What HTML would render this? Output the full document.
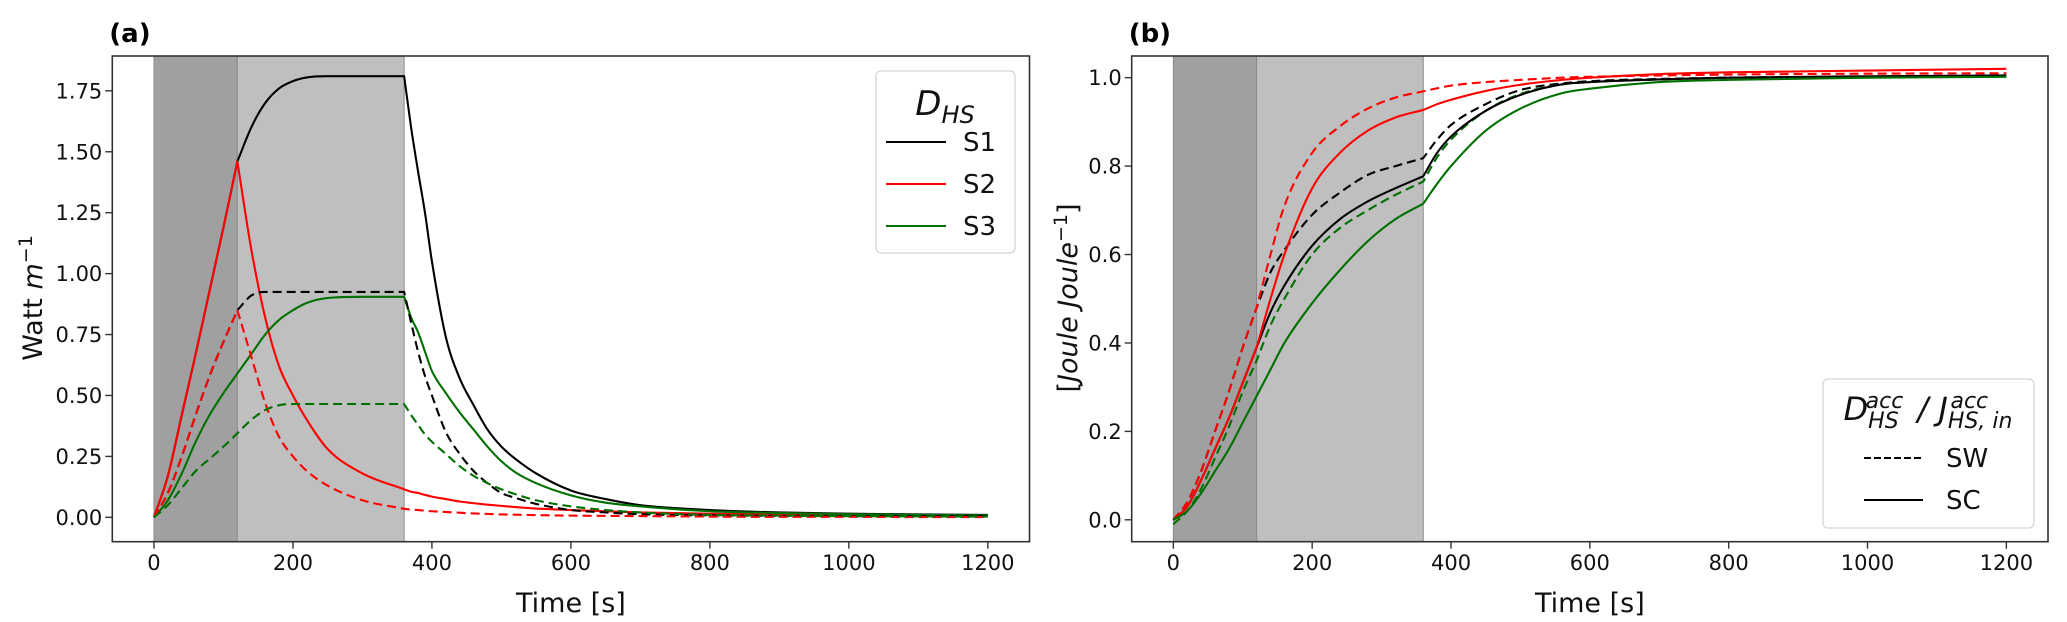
<!DOCTYPE html>
<html><head><meta charset="utf-8">
<style>
html,body{margin:0;padding:0;background:#fff;}
svg{display:block;font-family:"DejaVu Sans","Liberation Sans",sans-serif;}
</style></head>
<body>
<svg id="fig" width="2067" height="622" viewBox="0 0 2067 622" xmlns="http://www.w3.org/2000/svg"></svg>
<script>
// ---- Data: panel (a) power ----
const tA = [0,20,40,60,80,100,120,140,160,180,200,220,250,300,360,370,380,390,400,420,440,460,480,500,520,550,600,650,700,800,900,1000,1100,1200];
const aS1SC = [0,0.17,0.42,0.67,0.93,1.19,1.46,1.60,1.70,1.76,1.79,1.805,1.81,1.81,1.81,1.60,1.42,1.25,1.05,0.74,0.57,0.46,0.36,0.29,0.24,0.18,0.11,0.075,0.05,0.03,0.02,0.015,0.012,0.01];
const aS2SC = [0,0.17,0.42,0.67,0.93,1.19,1.46,1.10,0.82,0.62,0.50,0.40,0.28,0.18,0.115,0.105,0.10,0.092,0.085,0.075,0.065,0.058,0.052,0.047,0.042,0.036,0.03,0.025,0.02,0.015,0.012,0.01,0.008,0.007];
const aS3SC = [0,0.07,0.18,0.31,0.42,0.51,0.59,0.67,0.75,0.81,0.85,0.88,0.90,0.905,0.905,0.82,0.76,0.68,0.60,0.51,0.43,0.36,0.29,0.23,0.185,0.14,0.09,0.06,0.045,0.025,0.018,0.013,0.01,0.008];
const aS1SW = [0,0.10,0.25,0.42,0.58,0.72,0.85,0.91,0.925,0.925,0.925,0.925,0.925,0.925,0.925,0.80,0.68,0.58,0.50,0.35,0.26,0.19,0.14,0.10,0.08,0.055,0.03,0.02,0.013,0.008,0.006,0.005,0.005,0.005];
const aS2SW = [0,0.10,0.25,0.42,0.58,0.72,0.85,0.66,0.47,0.33,0.25,0.19,0.13,0.07,0.035,0.032,0.03,0.027,0.025,0.022,0.019,0.016,0.014,0.012,0.011,0.009,0.007,0.006,0.005,0.003,0.002,0.002,0.001,0.001];
const aS3SW = [0,0.05,0.12,0.19,0.24,0.29,0.345,0.40,0.44,0.46,0.465,0.465,0.465,0.465,0.465,0.42,0.38,0.34,0.31,0.26,0.21,0.17,0.14,0.115,0.095,0.07,0.045,0.03,0.02,0.01,0.007,0.005,0.004,0.003];
// ---- Data: panel (b) accumulated ratio ----
const tB = [0,20,40,60,80,100,120,140,160,200,240,280,320,360,380,400,450,500,560,600,700,800,1000,1200];
const bS2SW = [0,0.04,0.11,0.20,0.29,0.39,0.48,0.60,0.71,0.83,0.89,0.93,0.955,0.969,0.976,0.982,0.99,0.995,1.0,1.002,1.005,1.007,1.009,1.01];
const bS2SC = [0,0.03,0.09,0.16,0.23,0.31,0.39,0.50,0.60,0.75,0.83,0.88,0.91,0.927,0.94,0.95,0.97,0.984,0.995,1.0,1.008,1.012,1.016,1.02];
const bS1SW = [0,0.04,0.11,0.20,0.29,0.39,0.48,0.56,0.61,0.69,0.74,0.78,0.80,0.818,0.86,0.893,0.94,0.972,0.987,0.992,0.997,1.0,1.002,1.003];
const bS1SC = [0,0.03,0.09,0.16,0.23,0.31,0.39,0.47,0.53,0.62,0.68,0.72,0.75,0.777,0.83,0.867,0.925,0.961,0.985,0.99,0.996,1.0,1.003,1.005];
const bS3SW = [-0.01,0.02,0.07,0.14,0.21,0.29,0.36,0.44,0.50,0.60,0.66,0.70,0.735,0.765,0.82,0.86,0.925,0.963,0.985,0.99,0.996,1.0,1.002,1.003];
const bS3SC = [0,0.02,0.06,0.11,0.16,0.22,0.28,0.34,0.40,0.49,0.565,0.63,0.68,0.715,0.76,0.80,0.88,0.93,0.965,0.975,0.99,0.995,1.0,1.002];
const xTicks = [0,200,400,600,800,1000,1200];
const yTicksA = [0,0.25,0.5,0.75,1.0,1.25,1.5,1.75];
const yTicksB = [0,0.2,0.4,0.6,0.8,1.0];
const phases = [[0,120],[120,360]];

const NS = "http://www.w3.org/2000/svg";
const svg = document.getElementById('fig');
function mk(tag, attrs, parent){ const e=document.createElementNS(NS,tag); for(const k in attrs) e.setAttribute(k,attrs[k]); (parent||svg).appendChild(e); return e; }

function monoPath(xs, ys, first){
  const n=xs.length; let d='';
  if(n<2) return d;
  const dx=[],m=[],tg=[];
  for(let i=0;i<n-1;i++){dx.push(xs[i+1]-xs[i]); m.push((ys[i+1]-ys[i])/dx[i]);}
  tg[0]=m[0]; tg[n-1]=m[n-2];
  for(let i=1;i<n-1;i++){ tg[i]= (m[i-1]*m[i]<=0)?0:(m[i-1]+m[i])/2; }
  for(let i=0;i<n-1;i++){
    if(m[i]===0){tg[i]=0;tg[i+1]=0;continue;}
    const a=tg[i]/m[i], b=tg[i+1]/m[i], s=a*a+b*b;
    if(s>9){const t=3/Math.sqrt(s); tg[i]=t*a*m[i]; tg[i+1]=t*b*m[i];}
  }
  d += (first?'M':'L')+xs[0].toFixed(2)+','+ys[0].toFixed(2);
  for(let i=0;i<n-1;i++){
    const h=dx[i]/3;
    d+=' C'+(xs[i]+h).toFixed(2)+','+(ys[i]+tg[i]*h).toFixed(2)+' '+(xs[i+1]-h).toFixed(2)+','+(ys[i+1]-tg[i+1]*h).toFixed(2)+' '+xs[i+1].toFixed(2)+','+ys[i+1].toFixed(2);
  }
  return d;
}

function panel(cfg){
  const g = mk('g',{});
  
  
  const L=cfg.left, R=cfg.right, T=56, B=541.7;
  const xMin=-60, xMax=1260;
  const sx = v => L + (v-xMin)/(xMax-xMin)*(R-L);
  const sy = v => B - (v-cfg.yMin)/(cfg.yMax-cfg.yMin)*(B-T);
  const cols=['#a0a0a0','#bfbfbf'];
  phases.forEach((p,i)=>{
    const r=mk('rect',{x:sx(p[0]),y:T,width:sx(p[1])-sx(p[0]),height:B-T,fill:cols[i],stroke:'#8a8a8a','stroke-width':1},g);
    
    
  });
  cfg.series.forEach(s=>{
    const breaks=s.breaks||[120,360];
    let d='', seg=[0];
    for(let i=1;i<cfg.t.length;i++){
      seg.push(i);
      if(breaks.includes(cfg.t[i]) || i===cfg.t.length-1){
        d += monoPath(seg.map(j=>sx(cfg.t[j])), seg.map(j=>sy(s.y[j])), d==='') + ' ';
        seg=[i];
      }
    }
    const p=mk('path',{d:d,fill:'none',stroke:s.c,'stroke-width':2.1,'stroke-linejoin':'round'},g);
    if(s.dash) p.setAttribute('stroke-dasharray','9,5');
    
    
  });
  const f=mk('rect',{x:L,y:T,width:R-L,height:B-T,fill:'none',stroke:'#333','stroke-width':1.6},g);
  
  
  xTicks.forEach(v=>{
    mk('line',{x1:sx(v),x2:sx(v),y1:B,y2:B+7,stroke:'#333','stroke-width':1.4},g);
    const t=mk('text',{x:sx(v),y:570,'text-anchor':'middle','font-size':21,fill:'#111'},g);
    t.textContent=v;
    
    
  });
  cfg.yTicks.forEach(v=>{
    mk('line',{x1:L-7,x2:L,y1:sy(v),y2:sy(v),stroke:'#333','stroke-width':1.4},g);
    const t=mk('text',{x:L-10,y:sy(v)+7.5,'text-anchor':'end','font-size':21,fill:'#111'},g);
    t.textContent=v.toFixed(cfg.dec);
    
    
  });
  const xl=mk('text',{x:(L+R)/2,y:612,'text-anchor':'middle','font-size':27,fill:'#111'},g);
  xl.textContent='Time [s]';
  
  
  const ti=mk('text',{x:L-3,y:42,'font-size':26,'font-weight':'bold',fill:'#000'},g);
  ti.textContent=cfg.title;
  
  
  return g;
}

panel({name:'panel-a',left:112.3,right:1029.5,yMin:-0.1,yMax:1.893,dec:2,t:tA,yTicks:yTicksA,title:'(a)',series:[
  {n:'s1-sc-line',y:aS1SC,c:'#000'},{n:'s2-sc-line',y:aS2SC,c:'#ff0000'},{n:'s3-sc-line',y:aS3SC,c:'#007000',breaks:[360]},
  {n:'s1-sw-line',y:aS1SW,c:'#000',dash:1},{n:'s2-sw-line',y:aS2SW,c:'#ff0000',dash:1},{n:'s3-sw-line',y:aS3SW,c:'#007000',dash:1,breaks:[360]}]});
panel({name:'panel-b',left:1131.7,right:2048,yMin:-0.0495,yMax:1.049,dec:1,t:tB,yTicks:yTicksB,title:'(b)',series:[
  {n:'s1-sw-line',y:bS1SW,c:'#000',dash:1},{n:'s2-sw-line',y:bS2SW,c:'#ff0000',dash:1},{n:'s3-sw-line',y:bS3SW,c:'#007000',dash:1},
  {n:'s1-sc-line',y:bS1SC,c:'#000'},{n:'s2-sc-line',y:bS2SC,c:'#ff0000'},{n:'s3-sc-line',y:bS3SC,c:'#007000'}]});
</script>
<svg width="2067" height="622" style="position:absolute;left:0;top:0;font-family:'DejaVu Sans','Liberation Sans',sans-serif" xmlns="http://www.w3.org/2000/svg">
  <text transform="translate(42,298) rotate(-90)" text-anchor="middle" font-size="27" fill="#111">Watt <tspan font-style="italic">m</tspan><tspan dy="-10" font-size="19">−1</tspan></text>
  <text transform="translate(1077,298) rotate(-90)" text-anchor="middle" font-size="27" fill="#111">[<tspan font-style="italic">Joule Joule</tspan><tspan dy="-10" font-size="19">−1</tspan><tspan dy="10">]</tspan></text>
  <g>
    <rect x="876" y="71" width="139" height="182" rx="5" fill="#fff" fill-opacity="0.85" stroke="#d6d6d6" stroke-width="1.3"/>
    <text x="945" y="115" text-anchor="middle" font-size="34" font-style="italic" fill="#111">D<tspan dy="8" font-size="24">HS</tspan></text>
    <g><line x1="886" x2="946" y1="142" y2="142" stroke="#000" stroke-width="2"/><text x="963" y="151" font-size="26" fill="#111">S1</text></g>
    <g><line x1="886" x2="946" y1="184" y2="184" stroke="#ff0000" stroke-width="2"/><text x="963" y="193" font-size="26" fill="#111">S2</text></g>
    <g><line x1="886" x2="946" y1="226" y2="226" stroke="#007000" stroke-width="2"/><text x="963" y="235" font-size="26" fill="#111">S3</text></g>
  </g>
  <g>
    <rect x="1823" y="379" width="211" height="149" rx="5" fill="#fff" fill-opacity="0.85" stroke="#d6d6d6" stroke-width="1.3"/>
    <text x="1928" y="420" text-anchor="middle" font-size="32" font-style="italic" fill="#111">D<tspan dy="8" font-size="22">HS</tspan><tspan dy="-20" dx="-33" font-size="22">acc</tspan><tspan dy="12" dx="4"> / J</tspan><tspan dy="8" font-size="22">HS, in</tspan><tspan dy="-20" dx="-62" font-size="22">acc</tspan></text>
    <g><line x1="1864" x2="1923" y1="458" y2="458" stroke="#000" stroke-width="2" stroke-dasharray="7,3"/><text x="1946" y="467" font-size="26" fill="#111">SW</text></g>
    <g><line x1="1864" x2="1923" y1="500" y2="500" stroke="#000" stroke-width="2"/><text x="1946" y="509" font-size="26" fill="#111">SC</text></g>
  </g>
</svg>
</body></html>
